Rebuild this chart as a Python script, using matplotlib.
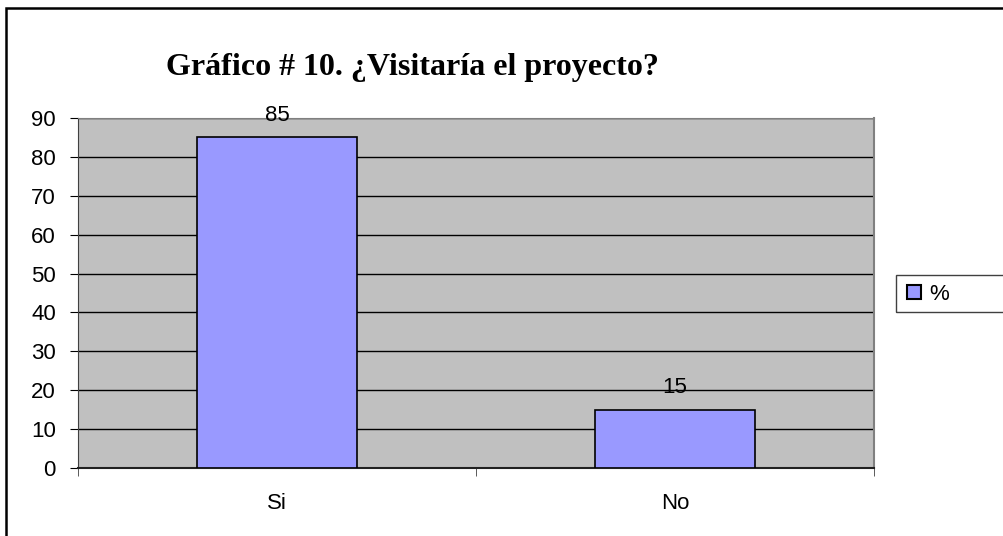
import matplotlib.pyplot as plt
from matplotlib.patches import Rectangle

categories = ['Si', 'No']
values = [85, 15]
series_name = '%'
yticks = list(range(0, 91, 10))

W, H = 1004, 536
fig = plt.figure(figsize=(W / 100, H / 100), dpi=100)
fig.patch.set_facecolor('white')

# outer frame of the chart object
fig.patches.append(Rectangle((6 / W, -0.05), 1.1, (H - 8) / H + 0.05,
                             transform=fig.transFigure, fill=False,
                             edgecolor='black', linewidth=1.8))

ax = fig.add_axes([78 / W, (H - 468) / H, (874 - 78) / W, (468 - 118) / H])
ax.set_facecolor('#C0C0C0')

x = list(range(len(categories)))
bars = ax.bar(x, values, width=0.4, color='#9999FF', edgecolor='black',
              linewidth=1.2, label=series_name, zorder=3)
for xi, v in zip(x, values):
    ax.annotate(str(v), (xi, v), xytext=(0, 12), textcoords='offset points',
                ha='center', va='baseline', fontsize=16,
                family='Liberation Sans', zorder=4, annotation_clip=False)

ax.set_xlim(-0.5, len(categories) - 0.5)
ax.set_ylim(0, 90)
ax.set_yticks(yticks)
ax.yaxis.grid(True, color='black', linewidth=1)
ax.set_axisbelow(True)

ax.set_xticks(x)
ax.set_xticklabels(categories, family='Liberation Sans', fontsize=16)
ax.set_xticks([-0.5 + i for i in range(len(categories) + 1)], minor=True)
ax.tick_params(axis='x', which='major', length=0, pad=18)
ax.tick_params(axis='x', which='minor', length=6, direction='out', color='#404040')
ax.tick_params(axis='y', length=6, direction='out', pad=10, labelsize=16)
for lab in ax.get_yticklabels():
    lab.set_family('Liberation Sans')

ax.spines['left'].set_color('#404040')
ax.spines['bottom'].set_color('#202020')
ax.spines['bottom'].set_linewidth(1.5)
ax.spines['top'].set_color('#808080')
ax.spines['right'].set_color('#808080')
ax.spines['right'].set_linewidth(1.5)

fig.text(412 / W, (H - 68) / H, 'Gráfico # 10. ¿Visitaría el proyecto?',
         ha='center', va='center', fontsize=23, fontweight='bold',
         family='Liberation Serif')

# legend frame (runs past the right edge like the original)
fig.patches.append(Rectangle((896 / W, (H - 312) / H), 0.2, 37 / H,
                             transform=fig.transFigure, fill=False,
                             edgecolor='#404040', linewidth=1))
handle = Rectangle((0, 0), 1, 1, facecolor='#9999FF', edgecolor='black', linewidth=1.5)
fig.legend([handle], [series_name], loc='center left',
           bbox_to_anchor=(903 / W, (H - 294) / H), frameon=False,
           prop={'family': 'Liberation Sans', 'size': 16},
           handlelength=0.6, handleheight=0.6, handletextpad=0.4,
           borderaxespad=0, borderpad=0.2)

fig.savefig('out.png', dpi=100)
